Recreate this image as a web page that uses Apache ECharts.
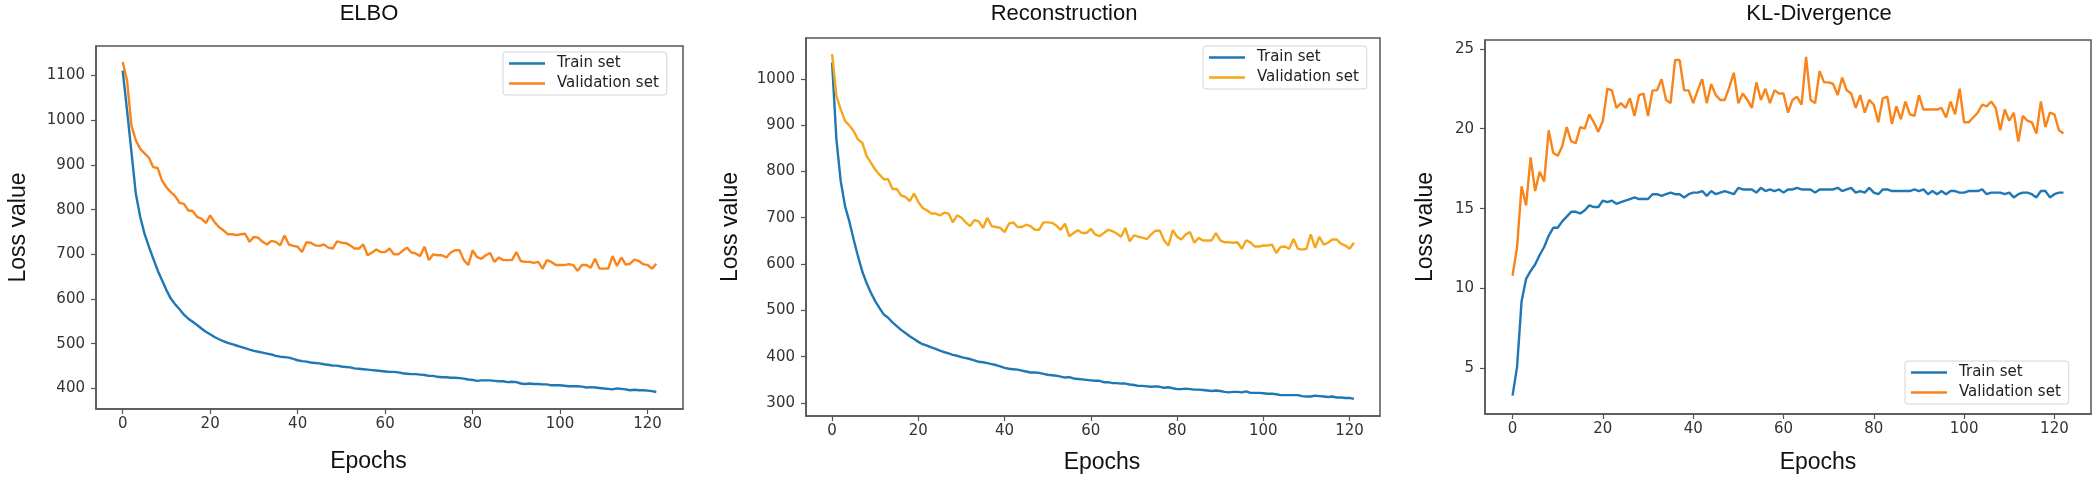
<!DOCTYPE html>
<html><head><meta charset="utf-8">
<script src="https://cdn.jsdelivr.net/npm/echarts@6/dist/echarts.min.js"></script>
<style>html,body{margin:0;padding:0;background:#fff}#c{width:2100px;height:481px}</style>
</head><body><div id="c"></div>
<script>
const panelTitles = ['ELBO', 'Reconstruction', 'KL-Divergence'];
const seriesNames = ['Train set', 'Validation set'];
const xAxisName = 'Epochs';
const yAxisName = 'Loss value';
const xTickValues = [0, 20, 40, 60, 80, 100, 120];
const elboYTicks = [400, 500, 600, 700, 800, 900, 1000, 1100];
const reconYTicks = [300, 400, 500, 600, 700, 800, 900, 1000];
const klYTicks = [5, 10, 15, 20, 25];

const elboTrain = [1111,1022,929,836,784,746,717,690,664,642,620,601,588,577,565,556,549,542,534,527,521,515,510,506,502,499,496,493,490,487,484,482,480,478,476,473,471,470,469,466,463,461,460,458,457,456,454,453,451,451,449,448,447,445,444,443,442,441,440,439,438,437,437,436,434,433,432,432,431,430,428,428,426,425,425,424,424,423,422,420,419,417,418,418,418,417,416,416,414,415,414,411,410,411,410,410,409,409,407,407,407,406,405,405,405,404,402,403,402,401,400,399,398,400,399,398,396,397,396,396,395,394,392];
const elboVal = [1130,1089,988,955,936,926,916,895,893,865,850,839,830,815,813,798,797,784,780,770,787,772,761,754,745,745,743,745,746,728,739,737,728,722,730,728,720,742,722,719,717,705,727,726,720,719,722,715,713,729,726,725,720,713,713,722,698,704,711,705,705,713,700,700,708,715,704,702,696,717,687,700,698,698,693,704,709,709,687,676,709,694,690,698,703,683,693,687,687,687,705,685,683,683,681,683,668,687,683,676,676,676,678,676,663,676,676,670,690,668,668,668,696,674,693,677,679,688,685,678,676,668,679];
const reconTrain = [1035,869,779,725,692,653,617,584,559,538,520,505,491,484,474,466,458,451,444,438,432,427,424,420,417,413,410,407,404,402,399,397,395,392,389,388,386,384,382,379,376,374,373,372,370,368,366,366,365,363,361,360,359,357,355,356,353,352,351,350,349,348,348,345,345,343,343,342,342,340,339,337,337,336,335,336,335,333,334,332,330,330,331,330,329,329,328,327,326,327,326,324,323,324,324,323,325,322,322,322,321,320,320,319,317,317,317,317,317,315,314,314,316,315,314,313,314,312,312,311,311,309];
const reconVal = [1053,963,934,909,899,887,869,862,833,819,804,793,783,783,762,762,748,745,736,752,734,721,716,709,709,705,711,709,690,705,700,690,682,695,692,678,700,682,680,678,669,687,690,680,680,685,682,674,674,690,690,689,683,674,687,660,667,673,667,667,676,664,660,667,674,671,666,659,678,649,662,659,657,654,664,672,672,651,640,673,659,653,664,669,646,657,651,651,651,667,651,647,647,646,647,633,651,647,638,638,640,640,642,624,637,638,633,654,633,631,633,664,635,659,642,646,653,653,644,640,633,646];
const klTrain = [3.3,5.1,9.2,10.6,11.1,11.5,12.1,12.6,13.3,13.8,13.8,14.2,14.5,14.8,14.8,14.7,14.9,15.2,15.1,15.1,15.5,15.4,15.5,15.3,15.4,15.5,15.6,15.7,15.6,15.6,15.6,15.9,15.9,15.8,15.9,16.0,15.9,15.9,15.7,15.9,16.0,16.0,16.1,15.8,16.1,15.9,16.0,16.1,16.0,15.9,16.3,16.2,16.2,16.2,16.0,16.3,16.1,16.2,16.1,16.2,16.0,16.2,16.2,16.3,16.2,16.2,16.2,16.0,16.2,16.2,16.2,16.2,16.3,16.1,16.2,16.3,16.0,16.1,16.0,16.3,16.0,15.9,16.2,16.2,16.1,16.1,16.1,16.1,16.1,16.2,16.1,16.2,15.9,16.1,15.9,16.1,15.9,16.1,16.1,16.0,16.0,16.1,16.1,16.1,16.2,15.9,16.0,16.0,16.0,15.9,16.0,15.7,15.9,16.0,16.0,15.9,15.7,16.1,16.1,15.7,15.9,16.0,16.0];
const klVal = [10.8,12.6,16.4,15.2,18.2,16.1,17.3,16.7,19.9,18.5,18.3,18.9,20.1,19.2,19.1,20.1,20.0,20.9,20.4,19.8,20.5,22.5,22.4,21.3,21.6,21.3,21.9,20.8,22.1,22.2,20.8,22.4,22.4,23.1,21.8,21.6,24.3,24.3,22.4,22.4,21.6,22.4,23.1,21.6,22.8,22.1,21.8,21.8,22.6,23.5,21.6,22.2,21.8,21.3,22.9,21.8,22.5,21.6,22.4,22.2,22.2,21.0,21.8,22.0,21.5,24.5,21.8,21.6,23.6,22.9,22.9,22.8,22.1,23.2,22.4,22.2,21.3,22.1,21.0,21.8,21.5,20.4,21.9,22.0,20.3,21.4,20.6,21.7,20.9,20.8,22.1,21.2,21.2,21.2,21.2,21.3,20.7,21.7,20.9,22.5,20.4,20.4,20.7,21.0,21.5,21.4,21.7,21.3,19.9,21.2,20.5,21.0,19.2,20.8,20.5,20.4,19.7,21.7,20.1,21.0,20.9,19.9,19.7];

const BLUE = '#1f77b4';
const ORANGE = '#f8841a';
const GOLD = '#f6a61a';
const FRAME = '#555555';
const TICKFONT = 'DejaVu Sans';
const LABELFONT = 'Liberation Sans, Arial, sans-serif';

const panels = [
  { grid: { left: 96, top: 46, width: 587, height: 363 }, xr: [-6.1, 128.1], yr: [354, 1166], yt: elboYTicks,
    train: elboTrain, val: elboVal, valColor: ORANGE, titleX: 369, ynGap: 66, xnGap: 41, xnPad: [0, 42, 0, 0],
    legend: { left: 503, top: 52 } },
  { grid: { left: 806, top: 38, width: 574, height: 378 }, xr: [-6.05, 127.05], yr: [272, 1088], yt: reconYTicks,
    train: reconTrain, val: reconVal, valColor: GOLD, titleX: 1064, ynGap: 64, xnGap: 35, xnPad: [0, 0, 0, 18],
    legend: { left: 1203, top: 46 } },
  { grid: { left: 1485, top: 40, width: 606, height: 374 }, xr: [-6.1, 128.1], yr: [2.15, 25.55], yt: klYTicks,
    train: klTrain, val: klVal, valColor: ORANGE, titleX: 1819, ynGap: 48, xnGap: 37, xnPad: [0, 0, 0, 60],
    legend: { left: 1905, top: 361 } }
];

const option = {
  animation: false,
  backgroundColor: '#ffffff',
  title: panels.map((p, i) => ({
    text: panelTitles[i], left: p.titleX, top: 3, textAlign: 'center', padding: 0,
    textStyle: { fontFamily: LABELFONT, fontSize: 22, fontWeight: 'normal', color: '#111' }
  })),
  grid: panels.map(p => Object.assign({ show: true, borderColor: FRAME, borderWidth: 1.5, backgroundColor: '#fff' }, p.grid)),
  xAxis: panels.map((p, i) => ({
    type: 'value', gridIndex: i, min: p.xr[0], max: p.xr[1],
    name: xAxisName, nameLocation: 'middle', nameGap: p.xnGap,
    nameTextStyle: { fontFamily: LABELFONT, fontSize: 23, color: '#111', padding: p.xnPad },
    axisLine: { show: true, onZero: false, lineStyle: { color: FRAME, width: 1.5 } },
    axisTick: { show: true, length: 5, customValues: xTickValues, lineStyle: { color: FRAME, width: 1.2 } },
    axisLabel: { customValues: xTickValues, margin: 8, fontFamily: TICKFONT, fontSize: 15, color: '#333', formatter: v => String(v) },
    splitLine: { show: false }
  })),
  yAxis: panels.map((p, i) => ({
    type: 'value', gridIndex: i, min: p.yr[0], max: p.yr[1],
    name: yAxisName, nameLocation: 'middle', nameGap: p.ynGap,
    nameTextStyle: { fontFamily: LABELFONT, fontSize: 23, color: '#111' },
    axisLine: { show: true, onZero: false, lineStyle: { color: FRAME, width: 1.5 } },
    axisTick: { show: true, length: 5, customValues: p.yt, lineStyle: { color: FRAME, width: 1.2 } },
    axisLabel: { customValues: p.yt, margin: 11, fontFamily: TICKFONT, fontSize: 15, color: '#333', formatter: v => String(v) },
    splitLine: { show: false }
  })),
  legend: panels.map(p => ({
    orient: 'vertical', left: p.legend.left, top: p.legend.top,
    data: [
      { name: seriesNames[0], icon: 'rect', itemStyle: { color: BLUE } },
      { name: seriesNames[1], icon: 'rect', itemStyle: { color: p.valColor } }
    ],
    itemWidth: 36, itemHeight: 2.5, itemGap: 5,
    padding: [4, 8, 4, 6],
    borderColor: '#d4d4d4', borderWidth: 1, borderRadius: 3, backgroundColor: '#ffffff',
    textStyle: { fontFamily: TICKFONT, fontSize: 15, color: '#222', padding: [0, 0, 0, 7] }
  })),
  series: []
};

panels.forEach((p, i) => {
  option.series.push({
    name: seriesNames[0], type: 'line', xAxisIndex: i, yAxisIndex: i, symbol: 'none',
    data: p.train.map((v, k) => [k, v]),
    lineStyle: { color: BLUE, width: 2.4 }, itemStyle: { color: BLUE }
  });
  option.series.push({
    name: seriesNames[1], type: 'line', xAxisIndex: i, yAxisIndex: i, symbol: 'none',
    data: p.val.map((v, k) => [k, v]),
    lineStyle: { color: p.valColor, width: 2.4 }, itemStyle: { color: p.valColor }
  });
});

const chart = echarts.init(document.getElementById('c'), null, { renderer: 'canvas' });
chart.setOption(option);
</script>
</body></html>
